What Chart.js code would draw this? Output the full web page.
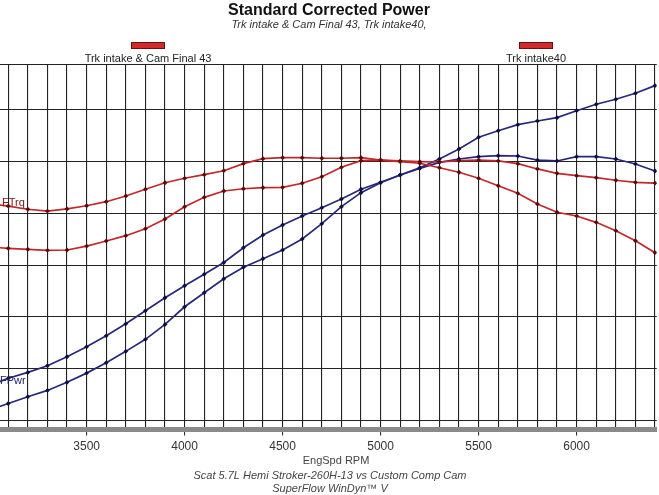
<!DOCTYPE html>
<html>
<head>
<meta charset="utf-8">
<script src="https://cdn.jsdelivr.net/npm/chart.js@4.4.1/dist/chart.umd.min.js"></script>
<style>
  html, body { margin: 0; padding: 0; background: #fff; }
  #wrap { width: 659px; height: 495px; position: relative; }
</style>
</head>
<body>
<div id="wrap"><canvas id="c"></canvas></div>
<script>
// engine speed, RPM
var rpm = [3000, 3100, 3200, 3300, 3400, 3500, 3600, 3700, 3800, 3900,
           4000, 4100, 4200, 4300, 4400, 4500, 4600, 4700, 4800, 4900,
           5000, 5100, 5200, 5300, 5400, 5500, 5600, 5700, 5800, 5900,
           6000, 6100, 6200, 6300, 6400];

// Trk intake40 (strong low end, falls off on top)
var trqIntake40 = [409.0, 407.0, 403.9, 402.2, 404.2, 407.3, 411.2, 416.7, 423.2, 429.5,
                   433.8, 437.3, 441.1, 447.9, 452.7, 453.7, 453.7, 453.1, 453.1, 453.7,
                   451.4, 449.8, 448.3, 444.0, 439.6, 433.8, 426.6, 419.3, 409.0, 401.0,
                   397.4, 391.3, 383.2, 373.5, 362.0];
var pwrIntake40 = [233.5, 240.8, 246.5, 252.9, 261.6, 271.2, 281.8, 293.4, 306.0, 318.5,
                   330.1, 341.1, 352.5, 366.8, 379.1, 388.7, 397.4, 405.4, 413.8, 423.2,
                   429.9, 437.0, 443.4, 449.2, 452.4, 454.6, 455.6, 455.3, 451.4, 450.5,
                   454.6, 454.6, 452.4, 447.6, 440.8];

// Trk intake & Cam Final 43 (soft low end, pulls to the top)
var trqCam43 = [367.5, 366.2, 365.2, 364.3, 364.6, 368.4, 373.3, 378.4, 385.1, 394.5,
                406.4, 415.4, 421.5, 423.7, 424.7, 425.1, 429.0, 435.3, 444.4, 450.8,
                451.4, 450.5, 449.8, 449.5, 450.8, 451.4, 450.5, 447.9, 442.8, 438.6,
                436.3, 434.4, 431.9, 429.9, 429.2];
var pwrCam43 = [210.0, 216.5, 223.0, 229.1, 236.9, 245.8, 255.8, 266.8, 278.4, 292.8,
                309.8, 323.3, 336.8, 347.9, 356.2, 364.6, 375.2, 390.0, 406.4, 419.9,
                429.5, 437.0, 444.0, 452.4, 462.1, 473.4, 479.7, 485.5, 489.1, 492.3,
                499.0, 505.2, 510.0, 515.8, 523.2];

// grid positions
var rpmGrid = [3100, 3200, 3300, 3400, 3500, 3600, 3700, 3800, 3900, 4000,
               4100, 4200, 4300, 4400, 4500, 4600, 4700, 4800, 4900, 5000,
               5100, 5200, 5300, 5400, 5500, 5600, 5700, 5800, 5900, 6000,
               6100, 6200, 6300, 6400];
var rpmLabels = [3500, 4000, 4500, 5000, 5500, 6000];
var valueGrid = [200, 250, 300, 350, 400, 450, 500];

var runNames = ['Trk intake & Cam Final 43', 'Trk intake40'];

var RED = '#c3262b', RED_PT = '#5c0b0b';
var BLUE = '#27287a', BLUE_PT = '#0f0f45';
var X_MIN = 3058, X_MAX = 6409, Y_MIN = 191.3, Y_MAX = 543.1;

function pts(vals) {
  return rpm.map(function (r, i) { return { x: r, y: vals[i] }; });
}

function lineSet(label, vals, color, ptColor) {
  return {
    label: label,
    data: pts(vals),
    borderColor: color,
    borderWidth: 1.7,
    backgroundColor: ptColor,
    pointBackgroundColor: ptColor,
    pointBorderColor: ptColor,
    pointStyle: 'rectRot',
    pointRadius: 2.4,
    pointBorderWidth: 0,
    tension: 0,
    fill: false
  };
}

// titles, legend boxes and footer text drawn on top of the chart
var textPlugin = {
  id: 'dynoText',
  afterDraw: function (chart) {
    var c = chart.ctx;
    c.save();
    c.textAlign = 'center';
    c.textBaseline = 'middle';
    c.fillStyle = '#111';
    c.font = 'bold 16px "Liberation Sans", Arial, sans-serif';
    c.fillText('Standard Corrected Power', 329, 11);
    c.font = 'italic 11px "Liberation Sans", Arial, sans-serif';
    c.fillStyle = '#333';
    c.fillText(runNames[0] + ', ' + runNames[1] + ',', 329, 25);

    // legend
    var leg = [{ x: 148, name: runNames[0] }, { x: 536, name: runNames[1] }];
    leg.forEach(function (l) {
      c.fillStyle = '#d22a2a';
      c.fillRect(l.x - 17, 42, 34, 7);
      c.strokeStyle = '#6a1010';
      c.lineWidth = 1;
      c.strokeRect(l.x - 16.5, 42.5, 33, 6);
      c.fillStyle = '#222';
      c.font = '11px "Liberation Sans", Arial, sans-serif';
      c.fillText(l.name, l.x, 59);
    });

    // series tags at the left edge
    c.textAlign = 'left';
    c.font = '11px "Liberation Sans", Arial, sans-serif';
    c.fillStyle = '#7a1414';
    c.fillText('FTrq', 2, 203);
    c.fillStyle = '#22226a';
    c.fillText('FPwr', 0, 381);

    // footer
    c.textAlign = 'center';
    c.fillStyle = '#444';
    c.font = '11px "Liberation Sans", Arial, sans-serif';
    c.fillText('EngSpd RPM', 336, 461);
    c.font = 'italic 11px "Liberation Sans", Arial, sans-serif';
    c.fillText('Scat 5.7L Hemi Stroker-260H-13 vs Custom Comp Cam', 330, 476);
    c.fillText('SuperFlow WinDyn\u2122 V', 330, 489);
    c.restore();
  }
};

new Chart(document.getElementById('c'), {
  type: 'line',
  data: {
    datasets: [
      lineSet(runNames[1] + ' STrq', trqIntake40, RED, RED_PT),
      lineSet(runNames[0] + ' STrq', trqCam43, RED, RED_PT),
      lineSet(runNames[1] + ' SPwr', pwrIntake40, BLUE, BLUE_PT),
      lineSet(runNames[0] + ' SPwr', pwrCam43, BLUE, BLUE_PT)
    ]
  },
  options: {
    responsive: true,
    maintainAspectRatio: false,
    animation: false,
    layout: { autoPadding: false, padding: { top: 65, bottom: 37, left: 0, right: 0 } },
    plugins: {
      legend: { display: false },
      title: { display: false },
      tooltip: { enabled: false }
    },
    scales: {
      x: {
        type: 'linear',
        min: X_MIN,
        max: X_MAX,
        afterBuildTicks: function (scale) {
          scale.ticks = rpmGrid.map(function (v) { return { value: v }; });
        },
        border: { display: true, color: '#8a8a8a', width: 5 },
        grid: {
          color: '#222',
          tickColor: function (ctx) {
            var v = ctx.tick && ctx.tick.value;
            return rpmLabels.indexOf(v) >= 0 ? '#333' : 'rgba(0,0,0,0)';
          },
          lineWidth: 1.1,
          tickLength: 6
        },
        ticks: {
          autoSkip: false,
          maxRotation: 0,
          padding: 4,
          color: '#333',
          font: { family: '"Liberation Sans", Arial, sans-serif', size: 12 },
          callback: function (v) { return rpmLabels.indexOf(v) >= 0 ? String(v) : ''; }
        }
      },
      y: {
        min: Y_MIN,
        max: Y_MAX,
        afterBuildTicks: function (scale) {
          scale.ticks = valueGrid.concat([Y_MAX]).map(function (v) { return { value: v }; });
        },
        border: { display: false },
        grid: {
          color: '#222',
          lineWidth: 1.1,
          drawTicks: false
        },
        ticks: { display: false, autoSkip: false }
      }
    }
  },
  plugins: [textPlugin]
});
</script>
</body>
</html>
